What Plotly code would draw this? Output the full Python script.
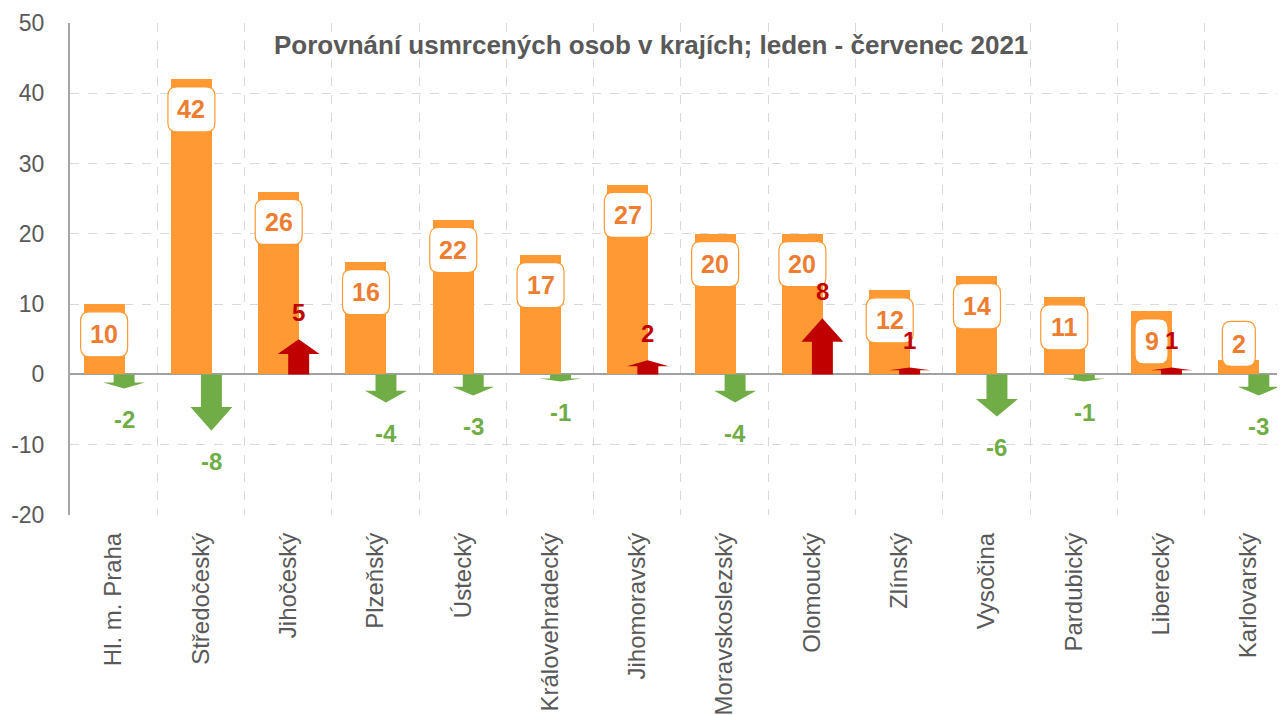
import plotly.graph_objects as go

categories = ["Hl. m. Praha", "Středočeský", "Jihočeský", "Plzeňský", "Ústecký",
              "Královehradecký", "Jihomoravský", "Moravskoslezský", "Olomoucký",
              "Zlínský", "Vysočina", "Pardubický", "Liberecký", "Karlovarský"]
killed_2021 = [10, 42, 26, 16, 22, 17, 27, 20, 20, 12, 14, 11, 9, 2]
change_vs_2020 = [-2, -8, 5, -4, -3, -1, 2, -4, 8, 1, -6, -1, 1, -3]
y_ticks = [-20, -10, 0, 10, 20, 30, 40, 50]
y_tick_labels = ["-20", "-10", "0", "10", "20", "30", "40", "50"]
title_text = "Porovnání usmrcených osob v krajích; leden - červenec 2021"

ORANGE = "#FF9933"
ORANGE_TXT = "#ED7D31"
GREEN = "#70AD47"
RED = "#C00000"
GRAY_TXT = "#595959"
SANS = "Liberation Sans, Arial, sans-serif"

BAR_OFF = -0.109
ARROW_OFF = 0.12
BAR_W = 0.47
HEAD_HW = 0.24
SHAFT_HW = 0.12
HEAD_FRAC = 0.42

# page body has an 8px margin, so figure coords = screen coords - 8
OFF = 8
PLOT_L, PLOT_R, PLOT_T, PLOT_B = 70 - OFF, 1285 - OFF, 23 - OFF, 515 - OFF
W, H = 1285, 715

fig = go.Figure()

xs = list(range(len(categories)))
fig.add_trace(go.Bar(x=[i + BAR_OFF for i in xs], y=killed_2021, width=BAR_W,
                     marker=dict(color=ORANGE, line=dict(width=0)),
                     hoverinfo="skip", showlegend=False))

for i, d in zip(xs, change_vs_2020):
    c = i + ARROW_OFF
    s = 1 if d > 0 else -1
    hb = d - s * HEAD_FRAC * abs(d)
    px = [c - SHAFT_HW, c - SHAFT_HW, c - HEAD_HW, c, c + HEAD_HW, c + SHAFT_HW, c + SHAFT_HW, c - SHAFT_HW]
    py = [0, hb, hb, d, hb, hb, 0, 0]
    col = RED if d > 0 else GREEN
    fig.add_trace(go.Scatter(x=px, y=py, mode="lines", fill="toself", fillcolor=col,
                             line=dict(width=0, color=col), hoverinfo="skip", showlegend=False))


def rounded_rect(w, h, r):
    x0, x1, y0, y1 = -w / 2, w / 2, -h / 2, h / 2
    return (f"M {x0 + r},{y0} L {x1 - r},{y0} Q {x1},{y0} {x1},{y0 + r} "
            f"L {x1},{y1 - r} Q {x1},{y1} {x1 - r},{y1} L {x0 + r},{y1} "
            f"Q {x0},{y1} {x0},{y1 - r} L {x0},{y0 + r} Q {x0},{y0} {x0 + r},{y0} Z")


shapes = []
annotations = []
for i, v in zip(xs, killed_2021):
    yc = max(v - 4.3, 4.35)
    w = 47 if v >= 10 else 33
    shapes.append(dict(type="path", xref="x", yref="y", xsizemode="pixel", ysizemode="pixel",
                       xanchor=i + BAR_OFF, yanchor=yc, path=rounded_rect(w, 45, 9),
                       fillcolor="white", line=dict(color=ORANGE, width=1.2), layer="above"))
    annotations.append(dict(x=i + BAR_OFF, y=yc, xref="x", yref="y", text=f"<b>{v}</b>",
                            showarrow=False, xanchor="center", yanchor="middle",
                            font=dict(family=SANS, size=25, color=ORANGE_TXT)))

for i, d in zip(xs, change_vs_2020):
    col = RED if d > 0 else GREEN
    annotations.append(dict(x=i + ARROW_OFF, y=d, xref="x", yref="y", text=f"<b>{d}</b>",
                            showarrow=False, xanchor="center", yanchor="middle",
                            yshift=27 if d > 0 else -31,
                            font=dict(family=SANS, size=24, color=col)))

title_x_px, title_y_px = 651 - OFF, 45 - OFF
annotations.append(dict(x=(title_x_px - PLOT_L) / (PLOT_R - PLOT_L),
                        y=(PLOT_B - title_y_px) / (PLOT_B - PLOT_T),
                        xref="paper", yref="paper", text=f"<b>{title_text}</b>",
                        showarrow=False, xanchor="center", yanchor="middle",
                        font=dict(family=SANS, size=26, color=GRAY_TXT)))

fig.update_layout(
    width=W, height=H,
    margin=dict(l=PLOT_L, r=W - PLOT_R, t=PLOT_T, b=H - PLOT_B, autoexpand=False),
    plot_bgcolor="white", paper_bgcolor="white",
    shapes=shapes, annotations=annotations,
    bargap=0,
)

fig.update_xaxes(range=[-0.5, 13.42], tickvals=xs, ticktext=categories, tickangle=-90,
                 showgrid=False, zeroline=False, showline=False, automargin=False,
                 ticks="", ticklabelstandoff=12,
                 tickfont=dict(family=SANS, size=24, color=GRAY_TXT),
                 minor=dict(tickvals=[i + 0.5 for i in xs[:-1]], showgrid=True,
                            gridcolor="#D9D9D9", griddash="dash", gridwidth=1, ticks=""))
fig.update_yaxes(range=[-20, 50], tickvals=y_ticks, ticktext=y_tick_labels,
                 showgrid=True, gridcolor="#D9D9D9", automargin=False,
                 griddash="dash", gridwidth=1, zeroline=True, zerolinecolor="#A0A0A0",
                 zerolinewidth=2, showline=True, linecolor="#A6A6A6", linewidth=2,
                 ticks="", ticklabelstandoff=19,
                 tickfont=dict(family=SANS, size=23, color=GRAY_TXT))

fig.write_html("out.html")
